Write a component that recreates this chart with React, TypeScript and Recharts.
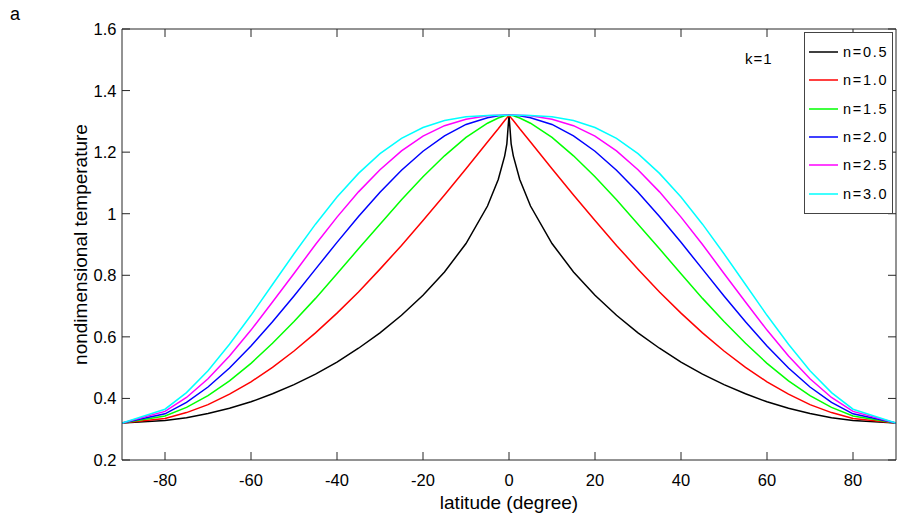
import { LineChart, Line, XAxis, YAxis, Legend } from 'recharts';

const LAT = [
  -90, -80, -75, -70, -65, -60, -55, -50, -45, -40, -35, -30, -25, -20, -15, -10, -5, -2.5, -1, -0.5,
  0, 0.5, 1, 2.5, 5, 10, 15, 20, 25, 30, 35, 40, 45, 50, 55, 60, 65, 70, 75, 80, 90,
];

const N05 = [
  0.32, 0.328, 0.337, 0.351, 0.368, 0.389, 0.415, 0.445, 0.479, 0.518, 0.563, 0.613, 0.67, 0.735, 0.811, 0.903, 1.025, 1.111, 1.188, 1.227,
  1.32, 1.227, 1.188, 1.111, 1.025, 0.903, 0.811, 0.735, 0.67, 0.613, 0.563, 0.518, 0.479, 0.445, 0.415, 0.389, 0.368, 0.351, 0.337, 0.328, 0.32,
];
const N10 = [
  0.32, 0.335, 0.354, 0.38, 0.414, 0.454, 0.501, 0.554, 0.613, 0.677, 0.746, 0.82, 0.897, 0.978, 1.061, 1.146, 1.233, 1.276, 1.303, 1.311,
  1.32, 1.311, 1.303, 1.276, 1.233, 1.146, 1.061, 0.978, 0.897, 0.82, 0.746, 0.677, 0.613, 0.554, 0.501, 0.454, 0.414, 0.38, 0.354, 0.335, 0.32,
];
const N15 = [
  0.32, 0.343, 0.371, 0.409, 0.457, 0.514, 0.579, 0.65, 0.725, 0.805, 0.886, 0.966, 1.045, 1.12, 1.188, 1.248, 1.294, 1.311, 1.318, 1.319,
  1.32, 1.319, 1.318, 1.311, 1.294, 1.248, 1.188, 1.12, 1.045, 0.966, 0.886, 0.805, 0.725, 0.65, 0.579, 0.514, 0.457, 0.409, 0.371, 0.343, 0.32,
];
const N20 = [
  0.32, 0.35, 0.387, 0.437, 0.499, 0.57, 0.649, 0.733, 0.82, 0.907, 0.991, 1.07, 1.141, 1.203, 1.253, 1.29, 1.312, 1.318, 1.32, 1.32,
  1.32, 1.32, 1.32, 1.318, 1.312, 1.29, 1.253, 1.203, 1.141, 1.07, 0.991, 0.907, 0.82, 0.733, 0.649, 0.57, 0.499, 0.437, 0.387, 0.35, 0.32,
];
const N25 = [
  0.32, 0.358, 0.403, 0.464, 0.538, 0.622, 0.713, 0.806, 0.9, 0.989, 1.071, 1.143, 1.204, 1.252, 1.286, 1.307, 1.318, 1.32, 1.32, 1.32,
  1.32, 1.32, 1.32, 1.32, 1.318, 1.307, 1.286, 1.252, 1.204, 1.143, 1.071, 0.989, 0.9, 0.806, 0.713, 0.622, 0.538, 0.464, 0.403, 0.358, 0.32,
];
const N30 = [
  0.32, 0.365, 0.419, 0.49, 0.576, 0.67, 0.77, 0.87, 0.966, 1.054, 1.131, 1.195, 1.245, 1.28, 1.303, 1.315, 1.319, 1.32, 1.32, 1.32,
  1.32, 1.32, 1.32, 1.32, 1.319, 1.315, 1.303, 1.28, 1.245, 1.195, 1.131, 1.054, 0.966, 0.87, 0.77, 0.67, 0.576, 0.49, 0.419, 0.365, 0.32,
];

const X_TICKS = [-80, -60, -40, -20, 0, 20, 40, 60, 80];
const Y_TICKS = [0.2, 0.4, 0.6, 0.8, 1.0, 1.2, 1.4, 1.6];

const SERIES = [
  { key: 'n05', label: 'n=0.5', color: '#000000', values: N05 },
  { key: 'n10', label: 'n=1.0', color: '#ff0000', values: N10 },
  { key: 'n15', label: 'n=1.5', color: '#00ff00', values: N15 },
  { key: 'n20', label: 'n=2.0', color: '#0000ff', values: N20 },
  { key: 'n25', label: 'n=2.5', color: '#ff00ff', values: N25 },
  { key: 'n30', label: 'n=3.0', color: '#00ffff', values: N30 },
];

const data = LAT.map((lat, i) => {
  const row: Record<string, number> = { lat };
  SERIES.forEach((s) => {
    row[s.key] = s.values[i];
  });
  return row;
});

const FONT = '"Liberation Sans", Arial, Helvetica, sans-serif';
const AXIS = '#262626';
const TICK_LEN = 8;

const W = 897;
const H = 523;
const M = { top: 28, right: 0, bottom: 0, left: 0 };
const X_AXIS_H = 63;
const Y_AXIS_W = 122;
// plot box edges, follow from the margins and axis sizes above
const PLOT_TOP = M.top + 1;
const PLOT_BOTTOM = H - M.bottom - X_AXIS_H;
const PLOT_LEFT = M.left + Y_AXIS_W;
const PLOT_RIGHT = W - M.right - 1;

// inward-pointing MATLAB style ticks
function BottomTick({ x, payload }: any) {
  return (
    <g>
      <line x1={x} x2={x} y1={PLOT_BOTTOM} y2={PLOT_BOTTOM - TICK_LEN} stroke={AXIS} />
      <text x={x} y={PLOT_BOTTOM + 26} textAnchor="middle" fontSize={16.5} fontFamily={FONT} fill="#000">
        {payload.value}
      </text>
    </g>
  );
}

function LeftTick({ y, payload }: any) {
  return (
    <g>
      <line x1={PLOT_LEFT} x2={PLOT_LEFT + TICK_LEN} y1={y} y2={y} stroke={AXIS} />
      <text x={PLOT_LEFT - 5.5} y={y + 6} textAnchor="end" fontSize={16.5} fontFamily={FONT} fill="#000">
        {String(Number(Number(payload.value).toFixed(1)))}
      </text>
    </g>
  );
}

function TopTick({ x }: any) {
  return <line x1={x} x2={x} y1={PLOT_TOP} y2={PLOT_TOP + TICK_LEN} stroke={AXIS} />;
}

function RightTick({ y }: any) {
  return <line x1={PLOT_RIGHT} x2={PLOT_RIGHT - TICK_LEN} y1={y} y2={y} stroke={AXIS} />;
}

function LegendBox() {
  return (
    <div
      style={{
        width: 89,
        height: 182,
        border: '1px solid #444',
        background: '#fff',
        boxSizing: 'border-box',
        paddingTop: 5,
      }}
    >
      {SERIES.map((s) => (
        <div key={s.key} style={{ display: 'flex', alignItems: 'center', height: 28.3 }}>
          <svg width={34} height={4} style={{ display: 'block' }}>
            <line x1={4} x2={33} y1={2} y2={2} stroke={s.color} strokeWidth={1.5} />
          </svg>
          <span
            style={{
              marginLeft: 4,
              fontSize: 14.5,
              letterSpacing: 1.7,
              fontFamily: FONT,
              color: '#000',
            }}
          >
            {s.label}
          </span>
        </div>
      ))}
    </div>
  );
}

export default function App() {
  return (
    <div style={{ position: 'absolute', left: 0, top: 0, width: W, height: H, background: '#fff' }}>
      <div style={{ position: 'absolute', left: 10, top: 4, fontSize: 18, fontFamily: FONT }}>a</div>
      <div
        style={{
          position: 'absolute',
          left: 745,
          top: 50,
          fontSize: 15,
          letterSpacing: 1,
          fontFamily: FONT,
          zIndex: 2,
        }}
      >
        k=1
      </div>
      <LineChart width={W} height={H} data={data} margin={M}>
        <XAxis
          dataKey="lat"
          type="number"
          domain={[-90, 90]}
          ticks={X_TICKS}
          allowDataOverflow
          height={X_AXIS_H}
          tickLine={false}
          tick={<BottomTick />}
          axisLine={{ stroke: AXIS }}
          label={{
            value: 'latitude (degree)',
            position: 'center',
            dy: 11,
            style: { fontSize: 19, fill: '#000', fontFamily: FONT },
          }}
        />
        <XAxis
          xAxisId="top"
          dataKey="lat"
          orientation="top"
          type="number"
          domain={[-90, 90]}
          ticks={X_TICKS}
          allowDataOverflow
          height={1}
          tickLine={false}
          tick={<TopTick />}
          axisLine={{ stroke: AXIS }}
        />
        <YAxis
          type="number"
          domain={[0.2, 1.6]}
          ticks={Y_TICKS}
          allowDataOverflow
          width={Y_AXIS_W}
          tickLine={false}
          tick={<LeftTick />}
          axisLine={{ stroke: AXIS }}
          label={{
            value: 'nondimensional temperature',
            angle: -90,
            position: 'center',
            dx: 19,
            style: { fontSize: 19, fill: '#000', fontFamily: FONT, textAnchor: 'middle' },
          }}
        />
        <YAxis
          yAxisId="right"
          orientation="right"
          type="number"
          domain={[0.2, 1.6]}
          ticks={Y_TICKS}
          allowDataOverflow
          width={1}
          tickLine={false}
          tick={<RightTick />}
          axisLine={{ stroke: AXIS }}
        />
        {SERIES.map((s) => (
          <Line
            key={s.key}
            dataKey={s.key}
            type="linear"
            stroke={s.color}
            strokeWidth={1.5}
            dot={false}
            isAnimationActive={false}
          />
        ))}
        {/* hidden series so the top and right box axes get drawn */}
        <Line
          xAxisId="top"
          yAxisId="right"
          dataKey="n05"
          stroke="none"
          dot={false}
          legendType="none"
          isAnimationActive={false}
        />
        <Legend
          layout="vertical"
          align="center"
          verticalAlign="middle"
          content={() => <LegendBox />}
          wrapperStyle={{ position: 'absolute', left: 804, top: 32, width: 89, height: 182 }}
        />
      </LineChart>
    </div>
  );
}
